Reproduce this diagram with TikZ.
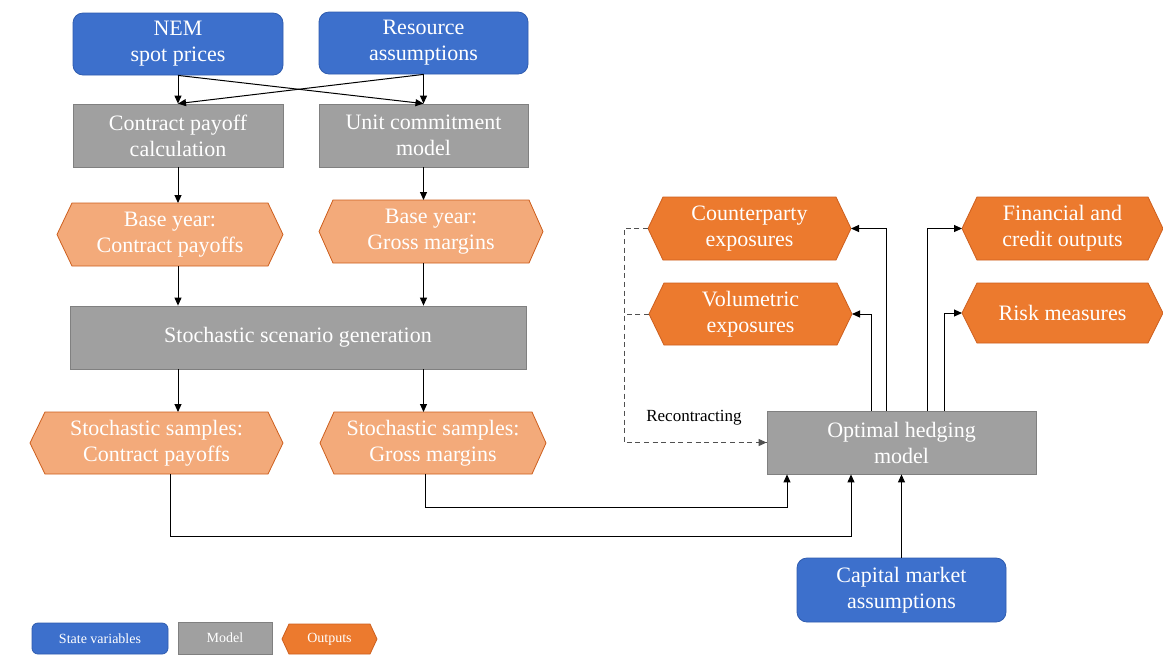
\documentclass[tikz,border=0pt]{standalone}
\usepackage{fontspec}
\setmainfont{Liberation Serif}
\usetikzlibrary{arrows.meta}
\definecolor{sblue}{RGB}{61,112,204}
\definecolor{sbluedk}{RGB}{47,92,175}
\definecolor{mgray}{RGB}{160,160,160}
\definecolor{mgraydk}{RGB}{128,128,128}
\definecolor{lorange}{RGB}{243,170,122}
\definecolor{dorange}{RGB}{236,122,46}
\definecolor{orangedk}{RGB}{205,95,30}
\definecolor{dashgray}{RGB}{80,80,80}
\newcommand\mainfs{\fontsize{11}{13}\selectfont}
\newcommand\legfs{\fontsize{7}{8}\selectfont}
\newcommand\hexbox[8]{%
  \node[hexshape, minimum width=#3, minimum height=#4] (#1) at #2 {};
  \path[hexline, fill=#6] ([xshift=#5]#1.north west) -- ([xshift=-#5]#1.north east) -- (#1.east)
    -- ([xshift=-#5]#1.south east) -- ([xshift=#5]#1.south west) -- (#1.west) -- cycle;
  \node[hextext, font=#7] at (#1) {#8};}
\begin{document}
\begin{tikzpicture}[x=0.5pt,y=-0.5pt,
  statebox/.style={draw=sbluedk, fill=sblue, rounded corners=5pt, text=white, align=center, font=\mainfs, inner sep=0pt},
  modelbox/.style={draw=mgraydk, fill=mgray, text=white, align=center, font=\mainfs, inner sep=0pt},
  hexshape/.style={inner sep=0pt, outer sep=0pt},
  hexline/.style={draw=orangedk, line width=0.4pt},
  hextext/.style={text=white, align=center, inner sep=0pt},
  arr/.style={-{Triangle[length=4pt,width=3.5pt]}, line width=0.5pt, black},
  dasharr/.style={dashed, dash pattern=on 2.5pt off 1.8pt, line width=0.5pt, dashgray},
  ]
\fill[white] (0,0) rectangle (1163,661);
\useasboundingbox (0,0) rectangle (1163,661);

% state variables
\node[statebox, minimum width=105pt, minimum height=31pt] (nem) at (178,44) {NEM\\spot prices};
\node[statebox, minimum width=104.5pt, minimum height=31pt] (res) at (423.5,43) {Resource\\assumptions};
\node[statebox, minimum width=104.5pt, minimum height=32pt] (cap) at (901.5,590) {Capital market\\assumptions};

% models
\node[modelbox, minimum width=105pt, minimum height=31.5pt] (calc) at (178,135.5) {Contract payoff\\calculation};
\node[modelbox, minimum width=104.5pt, minimum height=31.5pt] (unit) at (423.5,135.5) {Unit commitment\\model};
\node[modelbox, minimum width=228pt, minimum height=31.5pt] (ssg) at (298,337.5) {Stochastic scenario generation};
\node[modelbox, minimum width=134.5pt, minimum height=31.5pt] (hedge) at (901.5,442.5) {Optimal hedging\\model};

% hexagon outputs
\hexbox{bc}{(170,234.5)}{113pt}{31.5pt}{7.5pt}{lorange}{\mainfs}{Base year:\\Contract payoffs}
\hexbox{bg}{(431,231.5)}{112pt}{31.5pt}{7pt}{lorange}{\mainfs}{Base year:\\Gross margins}
\hexbox{sc}{(156.5,443)}{126.5pt}{31pt}{7.5pt}{lorange}{\mainfs}{Stochastic samples:\\Contract payoffs}
\hexbox{sg}{(433,443)}{113pt}{31pt}{7pt}{lorange}{\mainfs}{Stochastic samples:\\Gross margins}
\hexbox{cp}{(749.5,228.5)}{101.5pt}{31.5pt}{7.5pt}{dorange}{\mainfs}{Counterparty\\exposures}
\hexbox{vol}{(750.5,314)}{101.5pt}{31pt}{7.5pt}{dorange}{\mainfs}{Volumetric\\exposures}
\hexbox{fin}{(1062.5,228.5)}{100.5pt}{31.5pt}{7.5pt}{dorange}{\mainfs}{Financial and\\credit outputs}
\hexbox{risk}{(1062.5,313)}{100.5pt}{30pt}{7.5pt}{dorange}{\mainfs}{Risk measures}

% connectors
\draw[arr] (nem.south) -- (calc.north);
\draw[arr] (nem.south) -- (unit.north);
\draw[arr] (res.south) -- (unit.north);
\draw[arr] (res.south) -- (calc.north);
\draw[arr] (calc.south) -- (calc.south |- bc.north);
\draw[arr] (unit.south) -- (unit.south |- bg.north);
\draw[arr] (bc.south -| calc.south) -- (ssg.north -| calc.south);
\draw[arr] (bg.south -| unit.south) -- (ssg.north -| unit.south);
\draw[arr] (ssg.south -| calc.south) -- (sc.north -| calc.south);
\draw[arr] (ssg.south -| unit.south) -- (sg.north -| unit.south);

\draw[arr] ([xshift=6.75pt]sc.south) -- ++(0,62) -| ([xshift=-25.25pt]hedge.south);
\draw[arr] ([xshift=-3.75pt]sg.south) -- ++(0,33) -| ([xshift=-57.25pt]hedge.south);
\draw[arr] (cap.north) -- (hedge.south);

\draw[arr] ([xshift=-7.5pt]hedge.north) |- (cp.east);
\draw[arr] ([xshift=-15.25pt]hedge.north) |- (vol.east);
\draw[arr] ([xshift=12.75pt]hedge.north) |- (fin.west);
\draw[arr] ([xshift=21.25pt]hedge.north) |- (risk.west);

\draw[dasharr] (cp.west) -- ++(-24,0) coordinate (dk) |- (hedge.west);
\draw[arr, dashgray, line width=0.5pt] ([xshift=-3pt]hedge.west) -- (hedge.west);
\draw[dasharr] (vol.west) -- (vol.west -| dk);
\node[font=\fontsize{8.5}{10}\selectfont, inner sep=0pt] (recon) at (694,418) {Recontracting};

% legend
\node[statebox, rounded corners=3pt, font=\legfs, minimum width=68pt, minimum height=15.5pt] (lstate) at (100,638.5) {State variables};
\node[modelbox, font=\legfs, minimum width=47pt, minimum height=16pt] (lmodel) at (225,638) {Model};
\hexbox{lout}{(329.5,639)}{47.5pt}{15pt}{3.5pt}{dorange}{\legfs}{Outputs}
\end{tikzpicture}
\end{document}
